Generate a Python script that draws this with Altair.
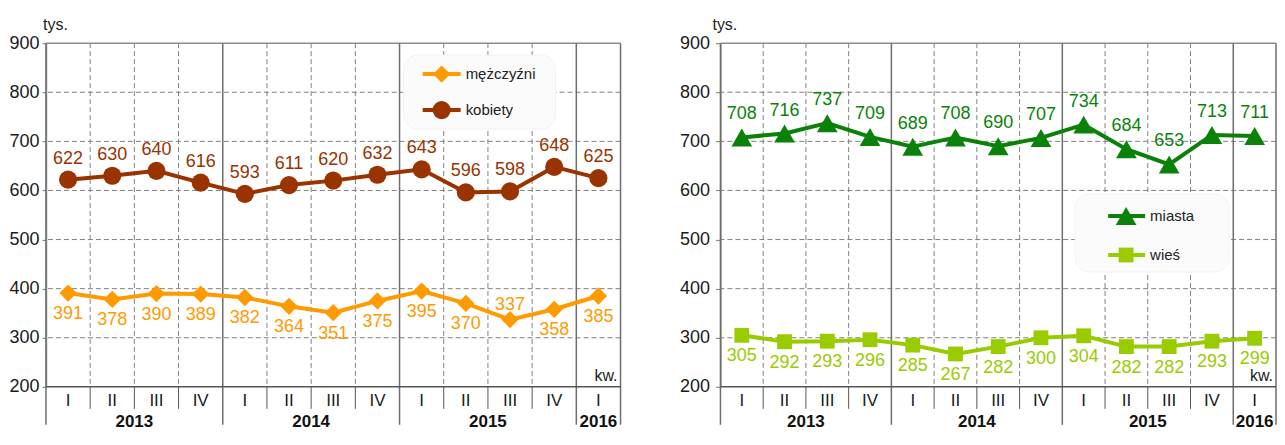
import altair as alt
import pandas as pd

FONT = "Liberation Sans"

# ---------------- data ----------------
quarters = ["I", "II", "III", "IV", "I", "II", "III", "IV", "I", "II", "III", "IV", "I"]
years = ["2013", "2014", "2015", "2016"]
quarters_per_year = [4, 4, 4, 1]
y_ticks = [200, 300, 400, 500, 600, 700, 800, 900]

men = [391, 378, 390, 389, 382, 364, 351, 375, 395, 370, 337, 358, 385]
women = [622, 630, 640, 616, 593, 611, 620, 632, 643, 596, 598, 648, 625]
urban = [708, 716, 737, 709, 689, 708, 690, 707, 734, 684, 653, 713, 711]
rural = [305, 292, 293, 296, 285, 267, 282, 300, 304, 282, 282, 293, 299]

name_men = "mężczyźni"
name_women = "kobiety"
name_urban = "miasta"
name_rural = "wieś"

# ---------------- style ----------------
N = len(quarters)
PLOT_H = 344
XS = alt.Scale(domain=[0, N], nice=False, zero=False)
YS = alt.Scale(domain=[200, 900], nice=False, zero=False)
GRID = "#7f7f7f"
FRAME = "#8c8c8c"
DASH = [5, 3]

C_MEN = "#FF9A00"
C_WOMEN = "#993300"
C_URBAN = "#0A820A"
C_RURAL = "#99CC00"

bounds = [0]
for q in quarters_per_year:
    bounds.append(bounds[-1] + q)
year_bounds = bounds
quarter_bounds = [b for b in range(1, N) if b not in year_bounds]
year_centers = [(bounds[i] + bounds[i + 1]) / 2 for i in range(len(years))]

one = pd.DataFrame({"a": [0]})


def series_df(values):
    return pd.DataFrame({"x": [i + 0.5 for i in range(len(values))],
                         "v": values,
                         "i": list(range(len(values)))})


def panel(width, specs, legend, label_pad, tick_size, tys_x):
    yaxis = alt.Axis(values=y_ticks, grid=False, title=None,
                     labelFont=FONT, labelFontSize=18, labelColor="#1a1a1a",
                     labelPadding=label_pad, tickSize=tick_size,
                     tickColor=FRAME, domainColor=FRAME, domainWidth=1.5,
                     tickWidth=1.2)

    def Y():
        return alt.Y("v:Q", scale=YS, axis=yaxis)

    layers = []
    # horizontal dashed grid + y axis
    hg = pd.DataFrame({"v": [t for t in y_ticks if t not in (200, 900)]})
    layers.append(
        alt.Chart(hg).mark_rule(color=GRID, strokeDash=DASH, strokeWidth=1).encode(y=Y()))
    # top frame
    layers.append(
        alt.Chart(pd.DataFrame({"v": [900]})).mark_rule(color=FRAME, strokeWidth=1.5).encode(y=Y()))
    # quarter separators: dashed inside, solid below axis
    qb = pd.DataFrame({"b": quarter_bounds})
    layers.append(
        alt.Chart(qb).mark_rule(color=GRID, strokeDash=DASH, strokeWidth=1).encode(
            x=alt.X("b:Q", scale=XS, axis=None), y=alt.value(0), y2=alt.value(PLOT_H)))
    layers.append(
        alt.Chart(qb).mark_rule(color="#555555", strokeWidth=1).encode(
            x=alt.X("b:Q", scale=XS, axis=None), y=alt.value(PLOT_H), y2=alt.value(PLOT_H + 22)))
    # year separators (solid, long)
    yb = pd.DataFrame({"b": year_bounds})
    layers.append(
        alt.Chart(yb).mark_rule(color="#6e6e6e", strokeWidth=1.5).encode(
            x=alt.X("b:Q", scale=XS, axis=None), y=alt.value(0), y2=alt.value(PLOT_H + 38)))
    # bottom axis line at 200
    layers.append(
        alt.Chart(pd.DataFrame({"v": [200]})).mark_rule(color="#555555", strokeWidth=1.5).encode(y=Y()))
    # quarter labels
    ql = pd.DataFrame({"x": [i + 0.5 for i in range(N)], "t": quarters})
    layers.append(
        alt.Chart(ql).mark_text(font=FONT, fontSize=17, color="#1a1a1a", baseline="middle").encode(
            x=alt.X("x:Q", scale=XS, axis=None), y=alt.value(PLOT_H + 14), text="t:N"))
    # year labels
    yl = pd.DataFrame({"x": year_centers, "t": years})
    layers.append(
        alt.Chart(yl).mark_text(font=FONT, fontSize=17, fontWeight="bold", color="#111111",
                                baseline="middle").encode(
            x=alt.X("x:Q", scale=XS, axis=None), y=alt.value(PLOT_H + 35), text="t:N"))
    # unit texts
    layers.append(
        alt.Chart(one).mark_text(font=FONT, fontSize=16, color="#222222", align="left",
                                 baseline="middle", text="tys.").encode(
            x=alt.value(tys_x), y=alt.value(-18)))
    layers.append(
        alt.Chart(one).mark_text(font=FONT, fontSize=16, color="#222222", align="right",
                                 baseline="middle", text="kw.").encode(
            x=alt.value(width - 3), y=alt.value(PLOT_H - 11)))
    # legend box
    bx0, bx1, by0, by1, lx0, lx1, mx, tx, rows = legend
    layers.append(
        alt.Chart(one).mark_rect(fill="#fbfbfb", cornerRadius=14, stroke="#f2f2f2",
                                 strokeWidth=1).encode(
            x=alt.value(bx0), x2=alt.value(bx1), y=alt.value(by0), y2=alt.value(by1)))
    for (name, color, shape, size), ry in zip([(s[0], s[2], s[3], s[4]) for s in specs], rows):
        layers.append(
            alt.Chart(one).mark_rule(color=color, strokeWidth=4).encode(
                x=alt.value(lx0), x2=alt.value(lx1), y=alt.value(ry)))
        layers.append(
            alt.Chart(one).mark_point(shape=shape, filled=True, size=size, color=color,
                                      opacity=1).encode(x=alt.value(mx), y=alt.value(ry)))
        layers.append(
            alt.Chart(pd.DataFrame({"t": [name]})).mark_text(
                font=FONT, fontSize=15, color="#222222", align="left", baseline="middle").encode(
                x=alt.value(tx), y=alt.value(ry), text="t:N"))
    # series
    for name, values, color, shape, size, dy, flip in specs:
        df = series_df(values)
        base = alt.Chart(df).encode(x=alt.X("x:Q", scale=XS, axis=None), y=Y())
        layers.append(base.mark_line(color=color, strokeWidth=4))
        layers.append(base.mark_point(shape=shape, filled=True, size=size, color=color, opacity=1))
        flip_list = list(flip)
        main_txt = base.mark_text(font=FONT, fontSize=18, color=color, dy=dy,
                                  baseline="middle").encode(text="v:Q")
        if flip_list:
            main_txt = main_txt.transform_filter(
                alt.FieldOneOfPredicate(field="i", oneOf=[i for i in range(N) if i not in flip_list]))
            layers.append(main_txt)
            layers.append(
                base.mark_text(font=FONT, fontSize=18, color=color, dy=-15,
                               baseline="middle").encode(text="v:Q").transform_filter(
                    alt.FieldOneOfPredicate(field="i", oneOf=flip_list)))
        else:
            layers.append(main_txt)
    return alt.layer(*layers).properties(width=width, height=PLOT_H)


left = panel(
    575,
    [(name_men, men, C_MEN, "diamond", 300, 21, [10]),
     (name_women, women, C_WOMEN, "circle", 330, -21, [])],
    (358, 510, 12, 86, 377, 415, 396, 420, [31, 67]),
    label_pad=3, tick_size=4, tys_x=-3)

right = panel(
    556,
    [(name_urban, urban, C_URBAN, "triangle-up", 430, -23, []),
     (name_rural, rural, C_RURAL, "square", 220, 21, [])],
    (355, 509, 151, 229, 388, 425, 406, 430, [173, 212]),
    label_pad=6, tick_size=5, tys_x=-8)

chart = alt.hconcat(left, right, spacing=57).properties(
    padding={"left": 0, "top": 9, "right": 0, "bottom": 0}
).configure_view(stroke=None)

chart.save("out.html", embed_options={"renderer": "svg", "actions": False})
